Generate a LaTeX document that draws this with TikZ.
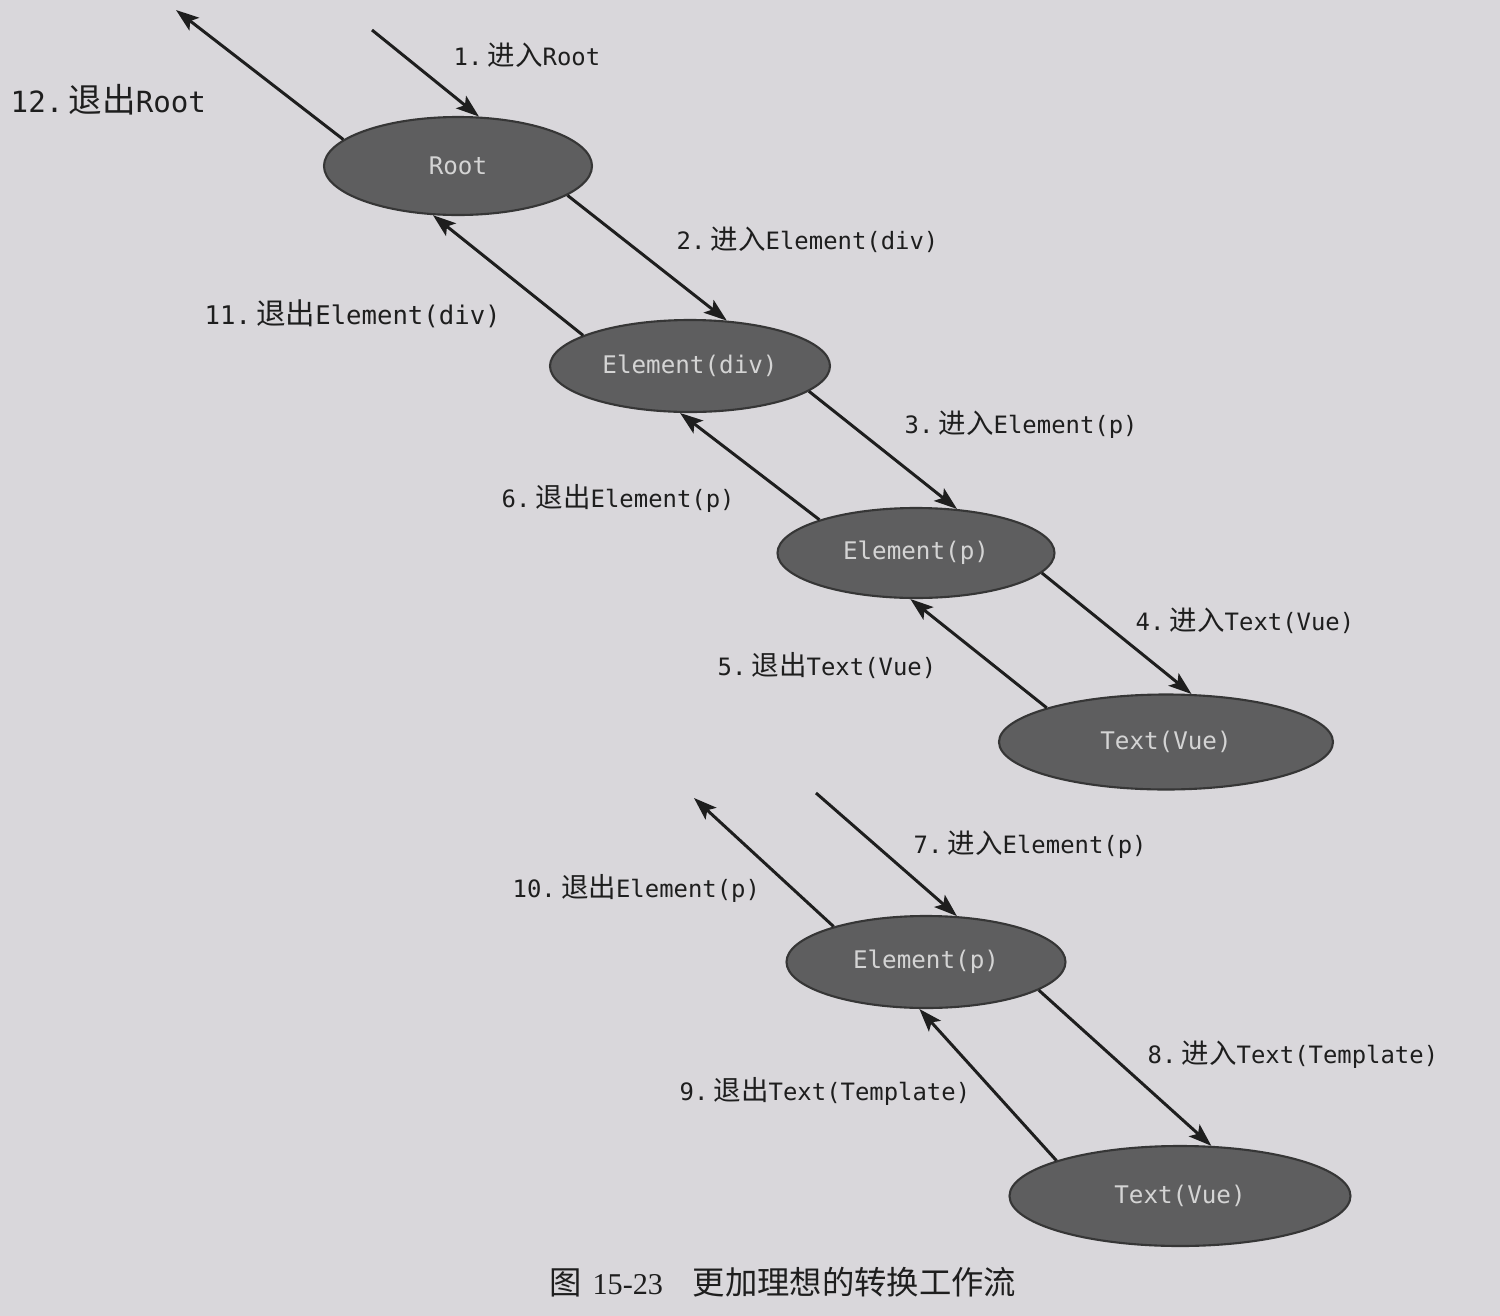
\documentclass[tikz,border=0pt]{standalone}
\usepackage{fontspec}
\setmainfont{DejaVu Sans Mono}
\newfontfamily\cjk{Noto Sans CJK SC}[Scale=1.15]
\newfontfamily\cjkcap{Noto Sans CJK SC}
\newfontfamily\capserif{Liberation Serif}
\usetikzlibrary{shapes.geometric,arrows.meta}
\definecolor{pagebg}{HTML}{D9D7DB}
\definecolor{ellfill}{HTML}{5E5E5F}
\definecolor{elldraw}{HTML}{363636}
\definecolor{elltext}{HTML}{D4D4D4}
\definecolor{ink}{HTML}{1E1E1E}
\newcommand{\lbl}[3]{#1\kern1.5pt{\cjk #2}#3}
\tikzset{
  stepnode/.style={ellipse, draw=elldraw, line width=0.6pt, fill=ellfill, inner sep=0pt,
    text=elltext, font=\fontsize{6.9pt}{8pt}\selectfont},
  flow/.style={draw=ink, line width=0.85pt, -{Stealth[length=2.3mm,width=1.6mm,inset=0.5mm]}},
  lab/.style={anchor=west, text=ink, inner sep=0pt, font=\fontsize{6.8pt}{8pt}\selectfont},
  biglab/.style={anchor=west, text=ink, inner sep=0pt, font=\fontsize{8.3pt}{10pt}\selectfont}
}
\begin{document}
\begin{tikzpicture}
\useasboundingbox (0,0) rectangle (15,-13.16);
\fill[pagebg] (0,0) rectangle (15,-13.16);

% nodes
\node[stepnode, minimum width=2.68cm, minimum height=0.98cm] (root) at (4.58,-1.66) {Root};
\node[stepnode, minimum width=2.80cm, minimum height=0.92cm] (div) at (6.90,-3.66) {Element(div)};
\node[stepnode, minimum width=2.77cm, minimum height=0.90cm] (p1) at (9.16,-5.53) {Element(p)};
\node[stepnode, minimum width=3.34cm, minimum height=0.95cm] (t1) at (11.66,-7.42) {Text(Vue)};
\node[stepnode, minimum width=2.79cm, minimum height=0.92cm] (p2) at (9.26,-9.62) {Element(p)};
\node[stepnode, minimum width=3.41cm, minimum height=1.00cm] (t2) at (11.80,-11.96) {Text(Vue)};

% free ends
\coordinate (top12) at (1.76,-0.10);
\coordinate (top1) at (3.72,-0.30);
\coordinate (top10) at (6.94,-7.98);
\coordinate (top7) at (8.16,-7.93);

% connectors
\draw[flow] (top1) -- (root.67.8);
\draw[flow] (root.167.6) -- (top12);
\draw[flow] (root.-15) -- (div.51);
\draw[flow] (div.164) -- (root.-117.5);
\draw[flow] (div.-12) -- (p1.47.6);
\draw[flow] (p1.161.6) -- (div.-102);
\draw[flow] (p1.-9.6) -- (t1.62.5);
\draw[flow] (t1.164) -- (p1.-97);
\draw[flow] (top7) -- (p2.56);
\draw[flow] (p2.159.6) -- (top10);
\draw[flow] (p2.-14) -- (t2.58);
\draw[flow] (t2.164) -- (p2.-98.4);

% labels
\node[lab] (l1) at (4.53,-0.55) {\lbl{1.}{进入}{Root}};
\node[biglab] (l12) at (0.10,-1.00) {\lbl{12.}{退出}{Root}};
\node[lab] (l2) at (6.76,-2.40) {\lbl{2.}{进入}{Element(div)}};
\node[lab, font=\fontsize{7.3pt}{8.5pt}\selectfont] (l11) at (2.04,-3.14) {\lbl{11.}{退出}{Element(div)}};
\node[lab] (l3) at (9.04,-4.25) {\lbl{3.}{进入}{Element(p)}};
\node[lab] (l6) at (5.01,-4.98) {\lbl{6.}{退出}{Element(p)}};
\node[lab] (l4) at (11.35,-6.21) {\lbl{4.}{进入}{Text(Vue)}};
\node[lab] (l5) at (7.17,-6.66) {\lbl{5.}{退出}{Text(Vue)}};
\node[lab] (l7) at (9.13,-8.45) {\lbl{7.}{进入}{Element(p)}};
\node[lab] (l10) at (5.12,-8.88) {\lbl{10.}{退出}{Element(p)}};
\node[lab] (l8) at (11.47,-10.55) {\lbl{8.}{进入}{Text(Template)}};
\node[lab] (l9) at (6.79,-10.91) {\lbl{9.}{退出}{Text(Template)}};

% caption
\node[anchor=west, text=ink, inner sep=0pt, font=\fontsize{9.2pt}{11pt}\selectfont] (cap) at (5.49,-12.82)
  {{\cjkcap 图}\kern3pt{\capserif\fontsize{8.6pt}{11pt}\selectfont 15-23}\kern8.5pt{\cjkcap 更加理想的转换工作流}};
\end{tikzpicture}
\end{document}
